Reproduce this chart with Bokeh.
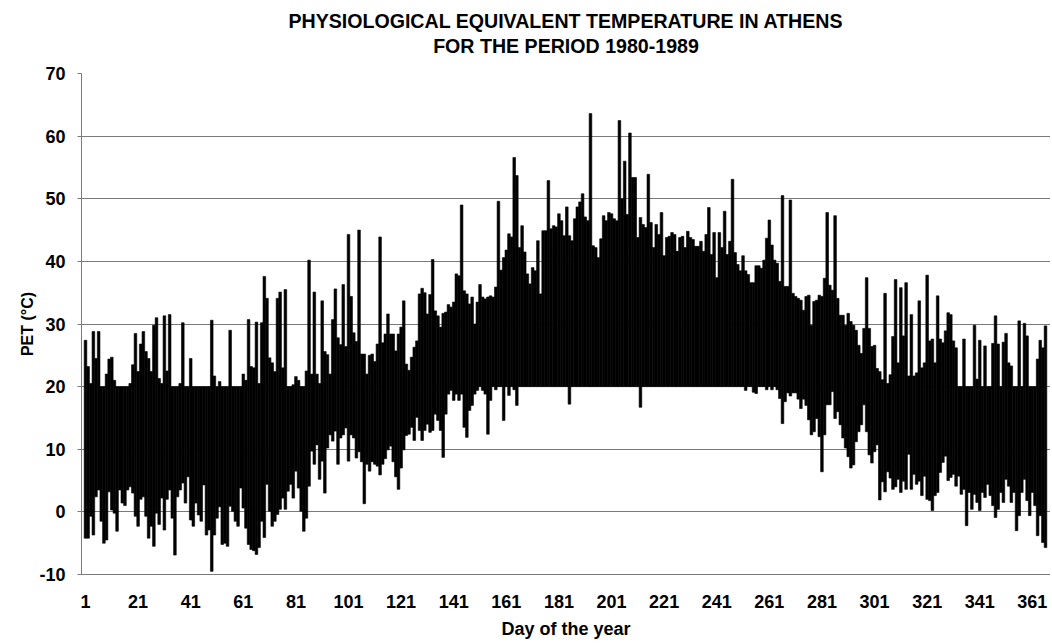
from bokeh.plotting import figure
from bokeh.models import ColumnDataSource, FixedTicker
from bokeh.layouts import column
from bokeh.core.properties import value
from bokeh.embed import file_html
from bokeh.resources import INLINE

# Day-of-year envelope of daily PET values, Athens 1980-1989
pet_max = [
    27.4, 23.2, 20.5, 28.8, 24.5, 28.8, 20.0, 20.0, 22.0, 24.4,
    24.7, 21.0, 20.0, 20.0, 20.0, 20.0, 20.0, 20.5, 23.5, 28.5,
    22.4, 26.8, 28.8, 25.6, 24.5, 22.4, 29.8, 31.0, 21.3, 20.5,
    31.3, 22.5, 31.5, 20.0, 20.0, 20.0, 20.5, 30.2, 20.0, 20.0,
    24.5, 20.0, 20.0, 20.0, 20.0, 20.0, 20.0, 20.0, 30.6, 21.7,
    20.0, 20.8, 20.0, 20.0, 20.0, 29.0, 20.0, 20.0, 20.0, 20.0,
    22.0, 21.0, 30.7, 23.2, 23.0, 30.3, 20.5, 30.2, 37.6, 34.1,
    24.6, 23.8, 22.4, 34.1, 35.1, 23.0, 35.5, 20.0, 20.0, 20.3,
    21.6, 21.0, 20.0, 20.0, 22.5, 40.2, 22.0, 35.1, 22.0, 20.5,
    33.7, 25.6, 25.1, 22.0, 30.7, 35.6, 27.8, 26.7, 36.3, 26.4,
    44.3, 34.4, 28.6, 27.2, 45.0, 25.2, 25.2, 22.0, 25.0, 25.2,
    24.0, 26.8, 43.9, 27.0, 28.4, 31.6, 28.4, 28.4, 25.7, 28.4,
    29.5, 33.7, 23.6, 22.6, 24.7, 26.3, 27.3, 34.8, 35.7, 35.0,
    31.6, 34.7, 40.3, 32.1, 31.3, 29.5, 31.7, 31.9, 33.1, 32.7,
    33.5, 38.0, 37.7, 49.0, 35.3, 34.8, 33.2, 34.3, 30.0, 33.5,
    36.3, 34.3, 34.0, 34.3, 34.5, 34.3, 35.9, 49.6, 38.6, 40.6,
    41.8, 44.4, 43.9, 56.6, 53.7, 42.2, 45.7, 41.5, 38.0, 36.4,
    39.0, 38.5, 43.3, 34.8, 44.9, 44.9, 52.9, 45.2, 45.7, 45.5,
    47.6, 46.5, 44.1, 48.7, 44.1, 43.3, 46.8, 48.7, 49.5, 50.8,
    47.1, 46.5, 63.6, 42.5, 42.2, 40.6, 43.6, 47.3, 46.5, 47.8,
    47.6, 46.8, 46.5, 62.5, 50.0, 56.0, 47.5, 60.5, 53.4, 53.4,
    43.8, 47.0, 45.9, 45.4, 53.9, 46.2, 42.2, 45.9, 44.3, 47.8,
    40.9, 43.8, 44.0, 44.6, 44.3, 41.6, 43.8, 44.0, 42.2, 44.8,
    43.8, 43.5, 42.4, 42.4, 43.2, 41.6, 44.3, 48.6, 41.1, 44.6,
    37.4, 44.6, 42.2, 48.0, 41.1, 43.2, 53.1, 41.4, 39.5, 38.5,
    40.9, 38.5, 37.9, 36.6, 36.6, 39.3, 39.3, 38.9, 40.2, 43.7,
    46.6, 42.6, 40.2, 39.7, 36.8, 50.5, 36.0, 36.0, 49.8, 34.9,
    34.4, 34.1, 33.8, 32.2, 34.4, 34.6, 29.8, 33.6, 33.8, 34.6,
    34.4, 37.3, 47.8, 36.2, 35.4, 47.3, 34.1, 31.4, 31.4, 29.8,
    31.7, 30.4, 29.8, 29.0, 26.6, 25.3, 29.3, 37.4, 29.3, 26.4,
    26.6, 22.9, 22.4, 21.1, 34.9, 20.5, 21.9, 28.0, 37.1, 23.8,
    35.8, 28.1, 36.6, 21.7, 31.5, 21.7, 22.2, 33.7, 23.0, 23.8,
    37.8, 27.3, 27.6, 23.8, 34.5, 27.6, 27.0, 28.9, 31.8, 31.5,
    27.3, 26.2, 20.0, 20.0, 27.6, 20.0, 20.0, 20.0, 29.8, 21.2,
    27.4, 20.0, 26.5, 20.0, 20.0, 26.9, 31.3, 26.8, 20.0, 27.1,
    28.5, 23.8, 23.3, 20.0, 20.0, 30.5, 20.0, 30.1, 28.1, 20.0,
    20.0, 20.0, 24.4, 27.4, 26.2, 29.7,
]

pet_min = [
    -4.2, -4.2, -0.7, -3.7, 2.4, 3.5, -1.5, -5.0, -4.5, 3.2,
    0.3, -0.2, -3.1, 3.5, 1.4, 1.0, 3.5, 4.0, 3.0, -0.7,
    -2.3, 2.0, 2.4, -0.7, -4.2, -2.3, -5.5, -0.2, -2.0, 2.2,
    -2.9, 2.0, 3.5, -1.0, -6.9, 2.4, 3.5, 4.6, 1.4, 5.6,
    -1.3, -2.3, 1.4, -0.5, -1.5, 4.3, -3.7, -2.9, -9.5, -3.7,
    -1.0, 0.8, -5.2, -5.0, -5.5, 0.9, 0.1, -1.5, -2.3, 3.8,
    0.6, -2.6, -5.2, -6.0, -6.2, -6.8, -5.7, -1.5, -4.1, 4.4,
    0.1, -2.3, -1.5, -0.4, 0.4, 2.2, 0.4, 3.3, 4.4, 2.2,
    6.5, 3.8, 0.1, -3.1, -1.0, 4.1, 9.7, 7.6, 10.7, 5.2,
    8.1, 3.0, 10.2, 12.3, 11.3, 12.9, 7.6, 11.8, 12.3, 13.4,
    8.1, 12.3, 11.8, 8.6, 9.6, 8.0, 1.3, 7.6, 6.5, 8.0,
    7.6, 7.3, 5.9, 7.6, 8.5, 9.9, 10.5, 8.0, 5.6, 3.6,
    7.0, 9.9, 12.2, 12.4, 13.5, 11.4, 15.1, 13.0, 11.4, 13.0,
    14.0, 12.7, 13.0, 15.6, 14.6, 13.0, 8.7, 15.6, 18.8, 19.4,
    17.8, 18.8, 17.8, 18.8, 13.5, 11.9, 16.2, 17.0, 18.8, 19.4,
    20.0, 19.4, 18.8, 12.4, 17.8, 20.0, 19.5, 20.0, 20.0, 14.6,
    20.0, 18.6, 20.0, 19.5, 17.0, 20.0, 20.0, 20.0, 20.0, 20.0,
    20.0, 20.0, 20.0, 20.0, 20.0, 20.0, 20.0, 20.0, 20.0, 20.0,
    20.0, 20.0, 20.0, 20.0, 17.2, 20.0, 20.0, 20.0, 20.0, 20.0,
    20.0, 20.0, 20.0, 20.0, 20.0, 20.0, 20.0, 20.0, 20.0, 20.0,
    20.0, 20.0, 20.0, 20.0, 20.0, 20.0, 20.0, 20.0, 20.0, 20.0,
    20.0, 16.7, 20.0, 20.0, 20.0, 20.0, 20.0, 20.0, 20.0, 20.0,
    20.0, 20.0, 20.0, 20.0, 20.0, 20.0, 20.0, 20.0, 20.0, 20.0,
    20.0, 20.0, 20.0, 20.0, 20.0, 20.0, 20.0, 20.0, 20.0, 20.0,
    20.0, 20.0, 20.0, 20.0, 20.0, 20.0, 20.0, 20.0, 20.0, 20.0,
    20.0, 19.4, 20.0, 20.0, 19.1, 18.9, 20.0, 20.0, 20.0, 19.5,
    20.0, 19.5, 20.0, 19.5, 18.1, 14.1, 17.6, 19.0, 18.5, 19.0,
    19.0, 18.0, 16.5, 18.0, 17.0, 14.7, 12.3, 12.8, 14.9, 12.0,
    6.4, 12.3, 17.1, 17.1, 19.2, 14.9, 16.0, 13.9, 11.8, 10.2,
    8.8, 7.0, 7.5, 11.2, 12.8, 13.9, 17.1, 12.8, 9.1, 7.8,
    9.6, 10.7, 1.9, 4.8, 3.2, 6.4, 5.4, 3.6, 4.0, 5.2,
    3.1, 4.9, 3.6, 9.2, 3.6, 6.0, 4.4, 4.9, 2.6, 5.7,
    2.0, 1.8, 0.2, 2.6, 3.1, 6.3, 7.9, 8.9, 5.0, 5.5,
    6.0, 4.1, 5.7, 2.8, 3.6, -2.2, 3.1, 0.4, 2.8, 1.5,
    0.2, 3.1, 2.3, 4.4, 2.6, 1.0, -0.9, 0.4, 3.1, 1.5,
    5.2, 4.1, 1.5, 3.1, -3.0, -0.6, 3.1, 5.2, 1.8, -0.6,
    3.1, 1.0, -3.8, -0.6, -4.9, -5.7,
]

days = list(range(1, len(pet_max) + 1))
day_ticks = list(range(1, 362, 20))
pet_ticks = list(range(-10, 71, 10))
pet_tick_labels = {t: str(t) for t in pet_ticks}
title_lines = ["PHYSIOLOGICAL EQUIVALENT TEMPERATURE IN ATHENS",
               "FOR THE PERIOD 1980-1989"]

FONT = "Liberation Sans"
W = 1050
TITLE_H = 60      # px height of the title strip
TOP_PAD = 13      # px between title strip and plot frame
FRAME_LEFT = 81

# ---- title strip (its own small figure, frame aligned with the chart frame) ----
t = figure(width=W, height=TITLE_H, x_range=(0, 1), y_range=(0, TITLE_H),
           x_axis_type=None, y_axis_type=None,
           output_backend="svg", toolbar_location=None,
           min_border=0, min_border_left=FRAME_LEFT, min_border_right=0,
           background_fill_color="white", border_fill_color="white")
t.outline_line_color = None
t.grid.visible = False
t.text(x=[0.5, 0.5], y=[TITLE_H - 20, TITLE_H - 45],
       text=title_lines, text_align="center", text_baseline="middle",
       text_font=value(FONT), text_font_size=value("19.6px"),
       text_font_style="bold", text_color="black")

# ---- main chart ----
src = ColumnDataSource(dict(day=days, hi=pet_max, lo=pet_min))

p = figure(
    width=W, height=641 - TITLE_H,
    x_range=(-0.52, 367.9), y_range=(-10, 70),
    output_backend="svg", toolbar_location=None,
    min_border_left=FRAME_LEFT, min_border_right=0,
    min_border_top=TOP_PAD, min_border_bottom=65,
    background_fill_color="white", border_fill_color="white",
)
p.outline_line_color = None

p.vbar(x="day", width=1.0, bottom="lo", top="hi", source=src,
       fill_color="black", line_color="black", line_width=0.6)

p.xgrid.visible = False
p.ygrid.ticker = FixedTicker(ticks=pet_ticks)
p.ygrid.grid_line_color = "#7a7a7a"
p.ygrid.grid_line_width = 1

p.xaxis.ticker = FixedTicker(ticks=day_ticks)
p.xaxis.axis_line_color = "#7a7a7a"
p.xaxis.major_tick_line_color = None
p.xaxis.minor_tick_line_color = None
p.xaxis.major_tick_out = 0
p.xaxis.major_label_standoff = 20
p.xaxis.major_label_text_font = FONT
p.xaxis.major_label_text_font_size = "18px"
p.xaxis.major_label_text_font_style = "bold"
p.xaxis.major_label_text_color = "black"
p.xaxis.axis_label = "Day of the year"
p.xaxis.axis_label_text_font = FONT
p.xaxis.axis_label_text_font_size = "18px"
p.xaxis.axis_label_text_font_style = "bold"
p.xaxis.axis_label_text_color = "black"
p.xaxis.axis_label_standoff = 8

p.yaxis.ticker = FixedTicker(ticks=pet_ticks)
p.yaxis.major_label_overrides = pet_tick_labels
p.yaxis.axis_line_color = "#7a7a7a"
p.yaxis.major_tick_line_color = "#7a7a7a"
p.yaxis.major_tick_out = 4
p.yaxis.major_tick_in = 0
p.yaxis.minor_tick_line_color = None
p.yaxis.major_label_standoff = 12
p.yaxis.major_label_text_font = FONT
p.yaxis.major_label_text_font_size = "18px"
p.yaxis.major_label_text_font_style = "bold"
p.yaxis.major_label_text_color = "black"
p.yaxis.axis_label = "PET (°C)"
p.yaxis.axis_label_text_font = FONT
p.yaxis.axis_label_text_font_size = "16px"
p.yaxis.axis_label_text_font_style = "bold"
p.yaxis.axis_label_text_color = "black"
p.yaxis.axis_label_standoff = 0

layout = column(t, p, spacing=0)
open("out.html", "w").write(file_html(layout, INLINE))
